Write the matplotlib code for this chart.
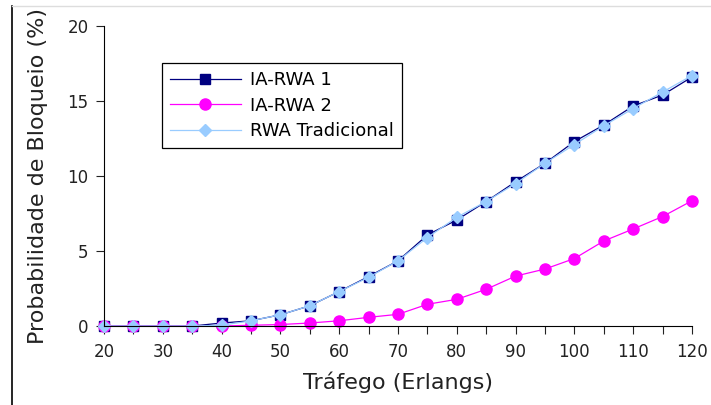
import matplotlib.pyplot as plt
from matplotlib.lines import Line2D

# Traffic load (Erlangs) and blocking probability (%)
trafego = [20, 25, 30, 35, 40, 45, 50, 55, 60, 65, 70,
           75, 80, 85, 90, 95, 100, 105, 110, 115, 120]
ia_rwa_1 = [0.0, 0.0, 0.0, 0.0, 0.2, 0.35, 0.75, 1.35, 2.3, 3.3, 4.35,
            6.07, 7.07, 8.3, 9.62, 10.85, 12.3, 13.4, 14.67, 15.4, 16.6]
ia_rwa_2 = [0.0, 0.0, 0.0, 0.0, 0.0, 0.05, 0.1, 0.2, 0.35, 0.58, 0.78,
            1.45, 1.78, 2.45, 3.33, 3.8, 4.5, 5.67, 6.47, 7.3, 8.35]
rwa_trad = [0.0, 0.0, 0.0, 0.0, 0.05, 0.35, 0.75, 1.35, 2.3, 3.25, 4.35,
            5.9, 7.25, 8.3, 9.5, 10.85, 12.1, 13.35, 14.5, 15.6, 16.7]

fig = plt.figure(figsize=(7.11, 4.05), dpi=100)
ax = fig.add_axes([0.1463, 0.195, 0.827, 0.7408])

ax.plot(trafego, ia_rwa_1, color='#000080', lw=0.9, marker='s', ms=7,
        label='IA-RWA 1', clip_on=False)
ax.plot(trafego, ia_rwa_2, color='#ff00ff', lw=0.9, marker='o', ms=8,
        label='IA-RWA 2', clip_on=False)
ax.plot(trafego, rwa_trad, color='#99ccff', lw=0.9, marker='D', ms=6,
        label='RWA Tradicional', clip_on=False)

ax.set_xlim(20, 120)
ax.set_ylim(0, 20)
ax.set_xticks(range(20, 121, 5))
ax.set_xticklabels([str(v) if v % 10 == 0 else '' for v in range(20, 121, 5)])
ax.set_yticks([0, 5, 10, 15, 20])
ax.tick_params(direction='out', length=6, labelsize=12, colors='#222222')
ax.tick_params(axis='x', pad=6)
ax.tick_params(axis='y', pad=5)

for side in ['top', 'right']:
    ax.spines[side].set_visible(False)

ax.set_xlabel('Tráfego (Erlangs)', fontsize=16, color='#222222', labelpad=8)
ax.set_ylabel('Probabilidade de Bloqueio (%)', fontsize=16, color='#222222',
              labelpad=14)

leg = ax.legend(loc='upper left', bbox_to_anchor=(0.0986, 0.877),
                borderaxespad=0, fontsize=13, handlelength=3.9,
                handletextpad=0.55, fancybox=False, framealpha=1,
                edgecolor='black', borderpad=0.45, labelspacing=0.42)
leg.get_frame().set_linewidth(0.9)

# page frame around the picture
fig.add_artist(Line2D([12 / 711, 12 / 711], [0, 1 - 6 / 405],
                      transform=fig.transFigure, color='black', lw=1.2))
fig.add_artist(Line2D([12 / 711, 1], [1 - 6 / 405, 1 - 6 / 405],
                      transform=fig.transFigure, color='#dddddd', lw=1))

fig.savefig('out.png', dpi=100)
